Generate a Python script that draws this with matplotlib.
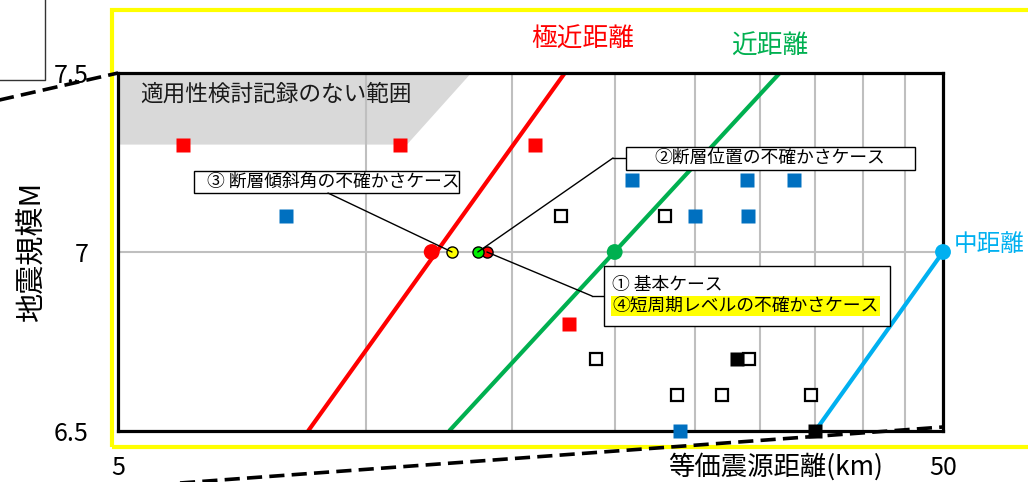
import numpy as np
import matplotlib
matplotlib.use('Agg')
import matplotlib.pyplot as plt
from matplotlib.patches import Polygon, Rectangle
from matplotlib.lines import Line2D
from matplotlib.ticker import NullFormatter

plt.rcParams['font.family'] = ['Noto Sans CJK JP', 'DejaVu Sans']

# 適用性検討記録 (等価震源距離 km, M)
red_x = [6.0, 11.0, 16.0, 17.6]
red_m = [7.3, 7.3, 7.3, 6.8]
blue_x = [8.0, 21.0, 25.0, 28.9, 29.0, 33.0, 24.0]
blue_m = [7.1, 7.2, 7.1, 7.2, 7.1, 7.2, 6.5]
open_x = [17.2, 23.0, 19.0, 29.1, 23.8, 27.0, 34.6]
open_m = [7.1, 7.1, 6.7, 6.7, 6.6, 6.6, 6.6]
black_x = [28.1, 35.0]
black_m = [6.7, 6.5]

# 極近距離・近距離・中距離
kyokukin_x = [8.5, 17.4]
kyokukin_m = [6.5, 7.5]
kin_x = [12.6, 31.7]
kin_m = [6.5, 7.5]
chu_x = [35.0, 50.0]
chu_m = [6.5, 7.0]
m7_x = [12.0, 20.0, 50.0]
m7_c = ['#FF0000', '#00B050', '#00B0F0']

# 検討ケース (M7)
case_x = [12.7, 14.0, 13.65]
case_c = ['#FFFF00', '#FF0000', '#00EE00']
case_m = 7.0

# 適用性検討記録のない範囲
nashi_x = [5, 5, 13.4, 11.2]
nashi_m = [7.3, 7.5, 7.5, 7.3]

grid_x = [10, 15, 20, 25, 30, 35, 40, 45]

W, H = 1028, 482
fig = plt.figure(figsize=(W / 100, H / 100), dpi=100)
ax = fig.add_axes([118 / W, 1 - 431 / H, 825 / W, 358 / H])
ax.set_xscale('log')
ax.set_xlim(5, 50)
ax.set_ylim(6.5, 7.5)
ax.set_xticks([5, 50])
ax.set_xticklabels(['5', '50'])
ax.set_xticks(grid_x, minor=True)
ax.xaxis.set_minor_formatter(NullFormatter())
ax.set_yticks([6.5, 7.0, 7.5])
ax.set_yticklabels(['6.5', '7', '7.5'])
ax.tick_params(which='both', length=0, labelsize=18)
ax.tick_params(axis='x', pad=17)
ax.tick_params(axis='y', pad=21)
ax.grid(which='minor', axis='x', color='#BFBFBF', lw=1.5)
ax.grid(which='major', axis='y', color='#BFBFBF', lw=1.5)
ax.set_axisbelow(True)
for s in ax.spines.values():
    s.set_linewidth(2.3)
    s.set_zorder(3)

ax.add_patch(Polygon(list(zip(nashi_x, nashi_m)), closed=True,
                     facecolor='#D9D9D9', edgecolor='none', zorder=0.2))
ax.text(0.027, 0.941, '適用性検討記録のない範囲', transform=ax.transAxes,
        fontsize=16.3, va='center', ha='left', color='#1a1a1a')

# 距離区分の線
ax.plot(kyokukin_x, kyokukin_m, color='#FF0000', lw=3, zorder=2, solid_capstyle='butt')
ax.plot(kin_x, kin_m, color='#00B050', lw=3, zorder=2, solid_capstyle='butt')
ax.plot(chu_x, chu_m, color='#00B0F0', lw=3, zorder=2, solid_capstyle='butt')
ax.scatter(m7_x, [7.0] * 3, s=130, c=m7_c, zorder=4, clip_on=False, linewidths=0)

# 記録
ax.plot(red_x, red_m, 's', ms=9.4, color='#FF0000', mec='none', zorder=4, clip_on=False)
ax.plot(blue_x, blue_m, 's', ms=9.4, color='#0070C0', mec='none', zorder=4, clip_on=False)
ax.plot(open_x, open_m, 's', ms=8.4, mfc='white', mec='black', mew=1.6, zorder=4, clip_on=False)
ax.plot(black_x, black_m, 's', ms=9.4, color='black', mec='none', zorder=4, clip_on=False)

# 検討ケース
for x, c in zip(case_x, case_c):
    ax.plot(x, case_m, 'o', ms=8, mfc=c, mec='black', mew=1, zorder=6)

ax.text(0.5636, 1.092, '極近距離', transform=ax.transAxes, fontsize=18.5,
        color='#FF0000', ha='center', va='center')
ax.text(0.790, 1.073, '近距離', transform=ax.transAxes, fontsize=18.5,
        color='#00B050', ha='center', va='center')
ax.text(1.0135, 0.52, '中距離', transform=ax.transAxes, fontsize=17,
        color='#00B0F0', ha='left', va='center', clip_on=False)

# 注記の枠
lk = dict(arrowstyle='-', color='black', lw=1, shrinkA=0, shrinkB=0)
ax.add_patch(Rectangle((0.0921, 0.6648), 0.3212, 0.0615, transform=ax.transAxes,
                       facecolor='white', edgecolor='black', lw=1, zorder=5))
ax.text(0.2612, 0.6955, '③ 断層傾斜角の不確かさケース', transform=ax.transAxes,
        fontsize=12.8, ha='center', va='center', zorder=6)
ax.annotate('', xy=(case_x[0], case_m), xycoords='data', xytext=(0.2545, 0.6648),
            textcoords='axes fraction', arrowprops=lk, zorder=7)

ax.add_patch(Rectangle((0.6158, 0.7291), 0.3503, 0.0642, transform=ax.transAxes,
                       facecolor='white', edgecolor='black', lw=1, zorder=5))
ax.text(0.7903, 0.7626, '②断層位置の不確かさケース', transform=ax.transAxes,
        fontsize=12.8, ha='center', va='center', zorder=6)
ax.annotate('', xy=(case_x[2], case_m), xycoords='data', xytext=(0.600, 0.7626),
            textcoords='axes fraction', arrowprops=lk, zorder=7)
ax.plot([0.600, 0.6158], [0.7626, 0.7626], color='black', lw=1, transform=ax.transAxes)

ax.add_patch(Rectangle((0.5891, 0.2933), 0.3467, 0.1676, transform=ax.transAxes,
                       facecolor='white', edgecolor='black', lw=1, zorder=5))
ax.text(0.5988, 0.4078, '① 基本ケース', transform=ax.transAxes,
        fontsize=12.8, ha='left', va='center', zorder=6)
ax.text(0.5988, 0.3492, '④短周期レベルの不確かさケース', transform=ax.transAxes,
        fontsize=12.8, ha='left', va='center', zorder=6,
        bbox=dict(facecolor='#FFFF00', edgecolor='none', pad=1))
ax.annotate('', xy=(case_x[1], case_m), xycoords='data', xytext=(0.5745, 0.3771),
            textcoords='axes fraction', arrowprops=lk, zorder=7)
ax.plot([0.5745, 0.5891], [0.3771, 0.3771], color='black', lw=1, transform=ax.transAxes)

ax.set_xlabel('等価震源距離(km)', fontsize=19, va='center')
ax.xaxis.set_label_coords(0.7976, -0.10)
ax.set_ylabel('地震規模M', fontsize=21, va='center')
ax.yaxis.set_label_coords(-0.104, 0.5)


def fx(px):
    return px / W


def fy(py):
    return 1 - py / H


# 黄色の枠
fig.add_artist(Rectangle((fx(112), fy(447)), fx(1050 - 112), (447 - 10) / H,
                         transform=fig.transFigure, fill=False,
                         edgecolor='#FFFF00', lw=3, zorder=0))
# 拡大元への線
dash = (0, (4.2, 2))
fig.add_artist(Line2D([fx(-5), fx(118)], [fy(101), fy(73)], transform=fig.transFigure,
                      color='black', lw=2.6, ls=dash))
fig.add_artist(Line2D([fx(180), fx(943)], [fy(483), fy(427)], transform=fig.transFigure,
                      color='black', lw=2.6, ls=dash))
fig.add_artist(Line2D([fx(45), fx(45), fx(-2)], [fy(-2), fy(80), fy(80)],
                      transform=fig.transFigure, color='#333333', lw=1))

fig.savefig('out.png', dpi=100)
